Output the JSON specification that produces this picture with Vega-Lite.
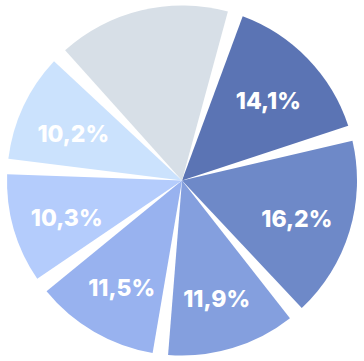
{
  "$schema": "https://vega.github.io/schema/vega-lite/v6.json",
  "width": 364,
  "height": 361,
  "padding": 0,
  "autosize": {"type": "fit", "contains": "padding"},
  "background": "white",
  "view": {"stroke": null},
  "data": {
    "values": [
      {"cat": "A", "i": 1, "value": 14.1, "label": "14,1%"},
      {"cat": "B", "i": 2, "value": 16.2, "label": "16,2%"},
      {"cat": "C", "i": 3, "value": 11.9, "label": "11,9%"},
      {"cat": "D", "i": 4, "value": 11.5, "label": "11,5%"},
      {"cat": "E", "i": 5, "value": 10.3, "label": "10,3%"},
      {"cat": "F", "i": 6, "value": 10.2, "label": "10,2%"},
      {"cat": "G", "i": 7, "value": 15.5, "label": ""}
    ]
  },
  "encoding": {
    "theta": {"field": "value", "type": "quantitative", "stack": true, "scale": {"range": [0.3098, 6.5930]}},
    "order": {"field": "i", "type": "quantitative"},
    "color": {
      "field": "cat",
      "type": "nominal",
      "legend": null,
      "scale": {
        "domain": ["A", "B", "C", "D", "E", "F", "G"],
        "range": ["#5B74B4", "#6E89C8", "#849FDE", "#98B2EF", "#B4CCFC", "#CBE2FD", "#D7DFE7"]
      }
    }
  },
  "layer": [
    {"mark": {"type": "arc", "outerRadius": 175, "padAngle": 0.089}},
    {
      "mark": {"type": "text", "radius": 120, "dy": 5, "font": "Inter", "fontWeight": 800, "fontSize": 23, "color": "white", "baseline": "middle", "align": "center"},
      "encoding": {"text": {"field": "label"}, "color": {"value": "white"}}
    }
  ]
}
